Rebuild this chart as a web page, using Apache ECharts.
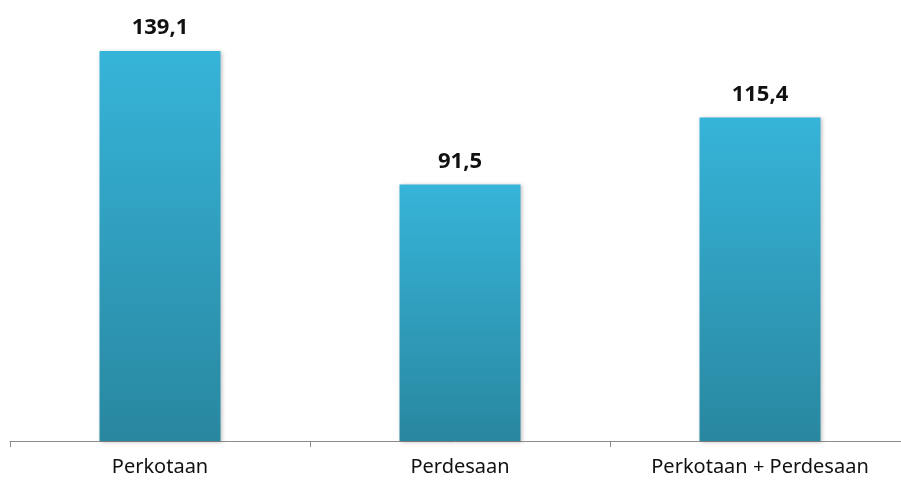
<!DOCTYPE html>
<html><head><meta charset="utf-8">
<script src="https://cdn.jsdelivr.net/npm/echarts@6/dist/echarts.min.js"></script>
<style>html,body{margin:0;padding:0;background:#fff;overflow:hidden}#c{width:901px;height:481px}</style>
</head><body><div id="c"></div>
<script>
const categories = ['Perkotaan', 'Perdesaan', 'Perkotaan + Perdesaan'];
const values = [139.1, 91.5, 115.4];
const valueLabels = ['139,1', '91,5', '115,4'];

const chart = echarts.init(document.getElementById('c'));
chart.setOption({
  animation: false,
  grid: {left: 10, width: 900, top: 20.5, bottom: 40, containLabel: false, outerBoundsMode: 'none'},
  xAxis: {
    type: 'category', data: categories,
    axisLine: {lineStyle: {color: '#8c8c8c', width: 1}},
    axisTick: {show: true, alignWithLabel: false, length: 6, lineStyle: {color: '#8c8c8c'}},
    axisLabel: {color: '#111', fontFamily: 'Noto Sans', fontSize: 20, margin: 16}
  },
  yAxis: {type: 'value', min: 0, max: 150, show: false, splitLine: {show: false}},
  series: [{
    type: 'bar', barWidth: 121,
    data: values,
    itemStyle: {
      color: new echarts.graphic.LinearGradient(0, 0, 0, 1, [
        {offset: 0, color: '#36b4d9'},
        {offset: 1, color: '#2987a0'}
      ]),
      shadowColor: 'rgba(0,0,0,0.25)', shadowBlur: 4, shadowOffsetX: 1, shadowOffsetY: 1
    },
    label: {
      show: true, position: 'top', distance: 12,
      formatter: p => valueLabels[p.dataIndex],
      color: '#111', fontFamily: 'Noto Sans', fontWeight: 'bold', fontSize: 22
    }
  }]
});
</script></body></html>
